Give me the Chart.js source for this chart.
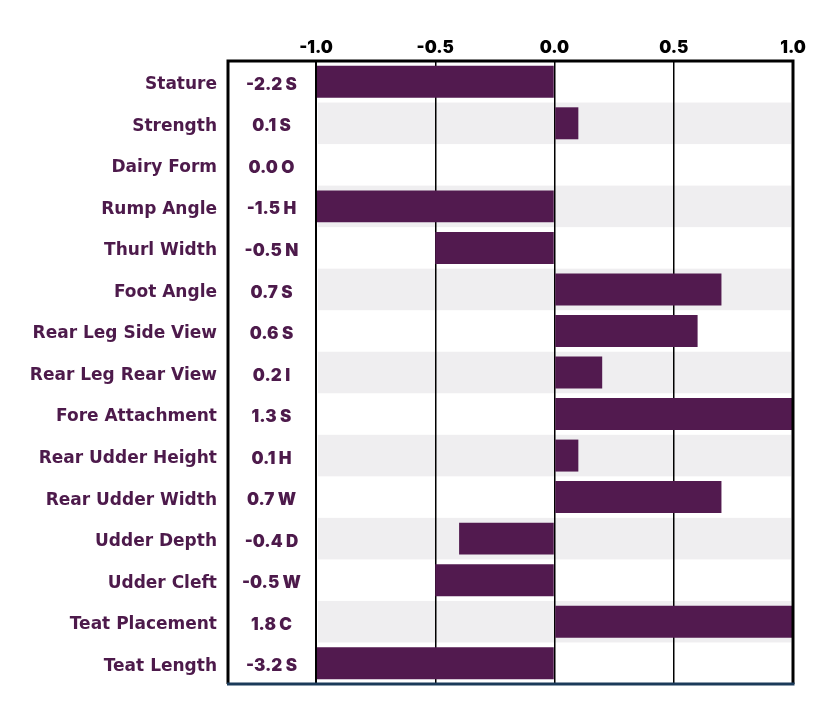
<!DOCTYPE html>
<html>
<head>
<meta charset="utf-8">
<script src="https://cdn.jsdelivr.net/npm/chart.js@4.4.0/dist/chart.umd.min.js"></script>
<style>
  body { margin: 0; background: #fff; }
  canvas { display: block; }
</style>
</head>
<body>
<canvas id="myChart" width="829" height="716"></canvas>
<script>
const traits = ['Stature', 'Strength', 'Dairy Form', 'Rump Angle', 'Thurl Width', 'Foot Angle',
    'Rear Leg Side View', 'Rear Leg Rear View', 'Fore Attachment', 'Rear Udder Height',
    'Rear Udder Width', 'Udder Depth', 'Udder Cleft', 'Teat Placement', 'Teat Length'];
const scores = [-2.2, 0.1, 0.0, -1.5, -0.5, 0.7, 0.6, 0.2, 1.3, 0.1, 0.7, -0.4, -0.5, 1.8, -3.2];
const letters = ['S', 'S', 'O', 'H', 'N', 'S', 'S', 'I', 'S', 'H', 'W', 'D', 'W', 'C', 'S'];
const xTicks = [-1.0, -0.5, 0.0, 0.5, 1.0];

const purple = '#521a4f';
const textPurple = '#4d1a4b';

const valueLabels = scores.map((v, i) => v.toFixed(1) + ' ' + letters[i]);

// alternating grey bands behind the plot rows
const bandsPlugin = {
    id: 'bands',
    beforeDraw(chart) {
        const ctx = chart.ctx;
        const area = chart.chartArea;
        const y = chart.scales.y;
        const rowH = (area.bottom - area.top) / traits.length;
        ctx.save();
        ctx.fillStyle = '#efeef0';
        for (let i = 1; i < traits.length; i += 2) {
            const c = y.getPixelForValue(i);
            ctx.fillRect(area.left + 2, c - rowH / 2, area.right - area.left - 4, rowH);
        }
        ctx.restore();
    }
};

// outer box round value column and plot
const boxPlugin = {
    id: 'box',
    afterDraw(chart) {
        const ctx = chart.ctx;
        const area = chart.chartArea;
        const left = chart.scales.y2.left;
        ctx.save();
        ctx.strokeStyle = '#000';
        ctx.lineWidth = 3;
        ctx.beginPath();
        ctx.moveTo(left + 1, area.bottom);
        ctx.lineTo(left + 1, area.top);
        ctx.lineTo(area.right, area.top);
        ctx.lineTo(area.right, area.bottom);
        ctx.stroke();
        ctx.lineWidth = 2;
        ctx.beginPath();
        ctx.moveTo(area.left, area.top);
        ctx.lineTo(area.left, area.bottom);
        ctx.stroke();
        ctx.strokeStyle = '#1b3a5a';
        ctx.lineWidth = 3;
        ctx.beginPath();
        ctx.moveTo(left, area.bottom);
        ctx.lineTo(area.right + 1.5, area.bottom);
        ctx.stroke();
        ctx.restore();
    }
};

const ctx = document.getElementById('myChart').getContext('2d');
new Chart(ctx, {
    type: 'bar',
    data: {
        labels: traits,
        datasets: [{
            data: scores,
            backgroundColor: purple,
            borderWidth: 0,
            categoryPercentage: 1,
            barPercentage: 0.77,
            yAxisID: 'y'
        }]
    },
    plugins: [bandsPlugin, boxPlugin],
    options: {
        responsive: false,
        animation: false,
        indexAxis: 'y',
        layout: { padding: { left: 0, right: 36, top: 0, bottom: 32 } },
        plugins: {
            legend: { display: false },
            tooltip: { enabled: false }
        },
        scales: {
            x: {
                position: 'top',
                min: -1,
                max: 1,
                afterBuildTicks(scale) {
                    scale.ticks = xTicks.map(v => ({ value: v }));
                },
                afterFit(scale) { scale.height = 61; },
                grid: { color: '#000', lineWidth: 1.5, drawTicks: false },
                border: { display: false },
                ticks: {
                    padding: 3,
                    color: '#000',
                    font: { family: 'Inter', weight: '900', size: 17 },
                    callback: v => Number(v).toFixed(1)
                }
            },
            y: {
                position: 'left',
                weight: 2,
                afterFit(scale) { scale.width = 227; },
                grid: { display: false, drawTicks: false },
                border: { display: false },
                ticks: { padding: 10, labelOffset: 3, color: textPurple, font: { family: 'DejaVu Sans', weight: 'bold', size: 17 } }
            },
            y2: {
                type: 'category',
                position: 'left',
                weight: 1,
                offset: true,
                labels: valueLabels,
                afterFit(scale) { scale.width = 89; },
                grid: { display: false, drawTicks: false },
                border: { display: false },
                ticks: { padding: 15, labelOffset: 3, crossAlign: 'center', color: textPurple, font: { family: 'Inter', weight: '900', size: 17 } }
            }
        }
    }
});
</script>
</body>
</html>
